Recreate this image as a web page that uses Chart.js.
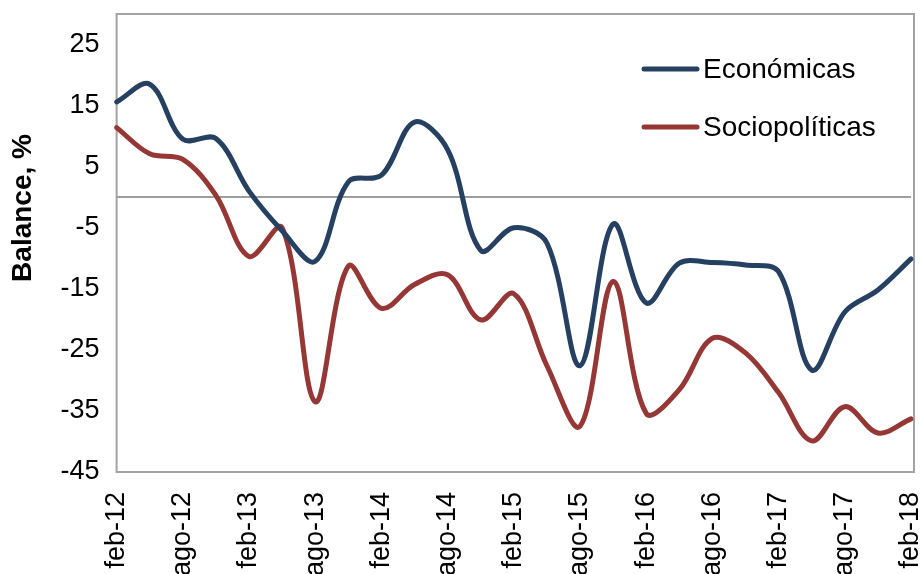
<!DOCTYPE html>
<html lang="es">
<head>
<meta charset="utf-8">
<title>Balance, %</title>
<script src="https://cdn.jsdelivr.net/npm/chart.js@4.4.1/dist/chart.umd.min.js"></script>
<style>
  html, body { margin: 0; padding: 0; background: #fff; }
  #wrap { width: 920px; height: 574px; }
</style>
</head>
<body>
<div id="wrap"><canvas id="balance-chart" width="920" height="574"></canvas></div>
<script>
// Datos trimestrales (feb, may, ago, nov)
const quarters = [
  'feb-12', 'may-12', 'ago-12', 'nov-12',
  'feb-13', 'may-13', 'ago-13', 'nov-13',
  'feb-14', 'may-14', 'ago-14', 'nov-14',
  'feb-15', 'may-15', 'ago-15', 'nov-15',
  'feb-16', 'may-16', 'ago-16', 'nov-16',
  'feb-17', 'may-17', 'ago-17', 'nov-17',
  'feb-18'
];

// Etiquetas visibles del eje X (cada seis meses)
const xTickLabels = [
  'feb-12', 'ago-12', 'feb-13', 'ago-13', 'feb-14', 'ago-14', 'feb-15',
  'ago-15', 'feb-16', 'ago-16', 'feb-17', 'ago-17', 'feb-18'
];

// Marcas del eje Y
const yTickValues = [-45, -35, -25, -15, -5, 5, 15, 25];
const yMin = -45;
const yMax = 30;

const economicas = [
  15.6, 18.5, 9.5, 9.6,
  1.0, -5.5, -10.5, 2.5,
  3.6, 12.3, 7.8, -8.7,
  -5.0, -7.5, -27.6, -4.4,
  -17.3, -10.8, -10.7, -11.1,
  -12.2, -28.3, -18.8, -15.2,
  -10.1
];

const sociopoliticas = [
  11.4, 7.1, 6.2, 0.3,
  -9.7, -5.0, -33.5, -11.3,
  -18.2, -14.3, -12.7, -20.1,
  -15.8, -27.6, -37.5, -13.8,
  -35.4, -31.5, -23.1, -25.5,
  -32.0, -39.9, -34.3, -38.6,
  -36.3
];

(function () {
  'use strict';

  const FONT = "'Liberation Sans', Arial, Helvetica, sans-serif";
  const FRAME_GREY = '#a3a3a3';

  // Marco gris alrededor del área de trazado
  const frame = {
    id: 'frame',
    beforeDatasetsDraw(chart) {
      const a = chart.chartArea;
      const ctx = chart.ctx;
      ctx.save();
      ctx.strokeStyle = FRAME_GREY;
      ctx.lineWidth = 2;
      ctx.strokeRect(a.left, a.top, a.right - a.left + 3, a.bottom - a.top);
      ctx.restore();
    }
  };

  // Leyenda dentro del área, arriba a la derecha
  const insideLegend = {
    id: 'insideLegend',
    afterDatasetsDraw(chart) {
      const a = chart.chartArea;
      const ctx = chart.ctx;
      ctx.save();
      ctx.font = '28px ' + FONT;
      ctx.textBaseline = 'middle';
      ctx.fillStyle = '#000';
      chart.data.datasets.forEach((ds, i) => {
        const y = a.top + 55 + i * 58;
        const x0 = a.right - 267;
        ctx.strokeStyle = ds.borderColor;
        ctx.lineWidth = 5;
        ctx.lineCap = 'round';
        ctx.beginPath();
        ctx.moveTo(x0, y);
        ctx.lineTo(x0 + 53, y);
        ctx.stroke();
        ctx.fillText(ds.label, x0 + 59, y + 1);
      });
      ctx.restore();
    }
  };

  const ctx = document.getElementById('balance-chart').getContext('2d');

  new Chart(ctx, {
    type: 'line',
    data: {
      labels: quarters,
      datasets: [
        {
          label: 'Económicas',
          data: economicas,
          borderColor: '#254061',
          borderWidth: 5,
          borderCapStyle: 'round',
          borderJoinStyle: 'round',
          pointRadius: 0,
          tension: 0.35,
          fill: false
        },
        {
          label: 'Sociopolíticas',
          data: sociopoliticas,
          borderColor: '#953735',
          borderWidth: 5,
          borderCapStyle: 'round',
          borderJoinStyle: 'round',
          pointRadius: 0,
          tension: 0.35,
          fill: false
        }
      ]
    },
    options: {
      responsive: false,
      animation: false,
      devicePixelRatio: 1,
      layout: {
        padding: { left: 6, top: 0, right: 0, bottom: 0 }
      },
      plugins: {
        legend: { display: false },
        tooltip: { enabled: false }
      },
      scales: {
        x: {
          type: 'category',
          offset: false,
          border: { display: false },
          grid: { display: false, drawTicks: false },
          afterFit: function (scale) {
            // altura fija del eje; las etiquetas largas se cortan como en el original
            scale.height = 102;
            scale.paddingLeft = 0;
            scale.paddingRight = 9;
          },
          ticks: {
            autoSkip: false,
            minRotation: 90,
            maxRotation: 90,
            padding: 20,
            color: '#000',
            font: { family: FONT, size: 27 },
            callback: function (value, index) {
              const lbl = quarters[index];
              return xTickLabels.includes(lbl) ? lbl : '';
            }
          }
        },
        y: {
          min: yMin,
          max: yMax,
          afterBuildTicks: function (scale) {
            // marcas de -45 a 25 y la línea del cero
            const vals = yTickValues.concat([0]).sort((a, b) => a - b);
            scale.ticks = vals.map(v => ({ value: v }));
          },
          afterFit: function (scale) {
            scale.paddingTop = 14;
            scale.paddingBottom = 0;
          },
          border: { display: false },
          grid: {
            drawTicks: false,
            lineWidth: 2,
            color: function (c) {
              return c.tick && c.tick.value === 0 ? '#9d9d9d' : 'rgba(0,0,0,0)';
            }
          },
          ticks: {
            padding: 17,
            color: '#000',
            font: { family: FONT, size: 27 },
            callback: function (value) {
              return value === 0 ? '' : value;
            }
          },
          title: {
            display: true,
            text: '\u00a0'.repeat(9) + 'Balance, %',
            color: '#000',
            padding: { top: 0, bottom: 4 },
            font: { family: FONT, size: 28, weight: 'bold' }
          }
        }
      }
    },
    plugins: [frame, insideLegend]
  });
})();
</script>
</body>
</html>
